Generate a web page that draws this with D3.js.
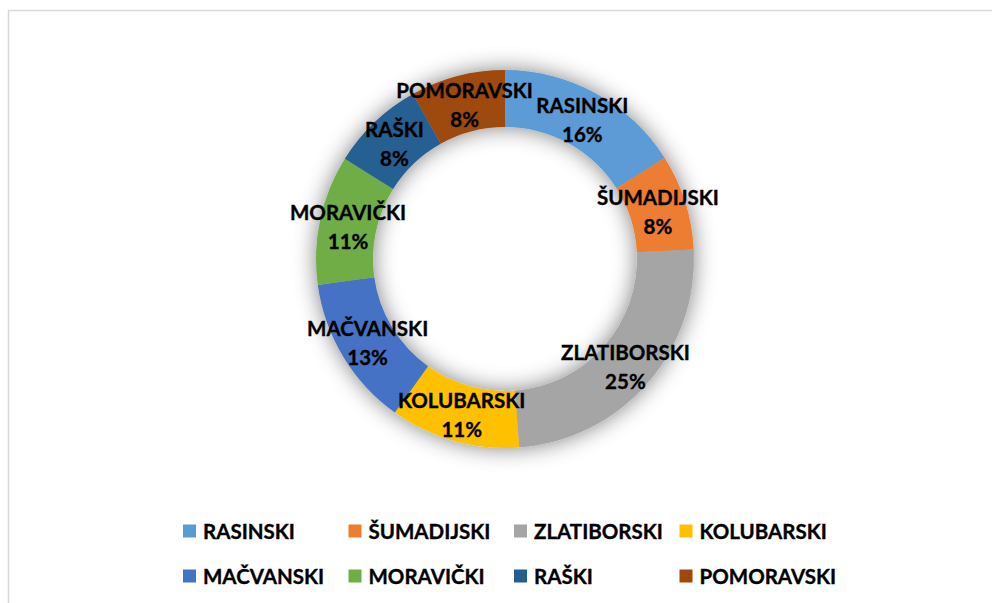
<!DOCTYPE html>
<html>
<head>
<meta charset="utf-8">
<script src="https://cdn.jsdelivr.net/npm/d3@7"></script>
<style>
  html, body { margin: 0; padding: 0; background: #fff; }
  svg { display: block; }
  text { font-family: Lato, "Open Sans", sans-serif; font-weight: 700; fill: #000; stroke: #000; stroke-width: 0.35px; }
</style>
</head>
<body>
<svg id="chart" width="992" height="603"></svg>
<script>
const categories = ["RASINSKI", "ŠUMADIJSKI", "ZLATIBORSKI", "KOLUBARSKI", "MAČVANSKI", "MORAVIČKI", "RAŠKI", "POMORAVSKI"];
const values = [16, 8.2, 24.6, 11.1, 12.9, 11.1, 8, 8.1];
const colors = ["#5B9BD5", "#ED7D31", "#A5A5A5", "#FFC000", "#4472C4", "#70AD47", "#255E91", "#9E480E"];

const svg = d3.select("#chart");
const W = 992, H = 603;

// chart area border (left and top visible)
svg.append("rect")
  .attr("x", 8.5).attr("y", 10.5)
  .attr("width", W + 20).attr("height", H + 20)
  .attr("fill", "#fff").attr("stroke", "#d9d9d9").attr("stroke-width", 1.5);

const defs = svg.append("defs");
const f = defs.append("filter").attr("id", "shadow")
  .attr("x", "-30%").attr("y", "-30%").attr("width", "160%").attr("height", "160%");
f.append("feGaussianBlur").attr("in", "SourceAlpha").attr("stdDeviation", 11).attr("result", "blur");
f.append("feFlood").attr("flood-color", "#000").attr("flood-opacity", 0.5).attr("result", "col");
f.append("feComposite").attr("in", "col").attr("in2", "blur").attr("operator", "in").attr("result", "sh");
const m = f.append("feMerge");
m.append("feMergeNode").attr("in", "sh");
m.append("feMergeNode").attr("in", "SourceGraphic");

const cx = 505, cy = 259, rOuter = 189, rInner = 132;
const data = categories.map((c, i) => ({ name: c, value: values[i], color: colors[i] }));
const total = d3.sum(values);

const pie = d3.pie().value(d => d.value).sort(null);
const arc = d3.arc().innerRadius(rInner).outerRadius(rOuter);
const arcs = pie(data);

const g = svg.append("g").attr("transform", `translate(${cx},${cy})`);
const ring = g.append("g").attr("filter", "url(#shadow)");
ring.selectAll("path").data(arcs).enter().append("path")
  .attr("d", arc)
  .attr("fill", d => d.data.color);

const labelArc = d3.arc().innerRadius((rInner + rOuter) / 2).outerRadius((rInner + rOuter) / 2);
const fs = 20.5, lh = 29;
const lbl = g.selectAll("g.lbl").data(arcs).enter().append("g").attr("class", "lbl")
  .attr("transform", d => { const c = labelArc.centroid(d); return `translate(${c[0]},${c[1]})`; });
lbl.append("text").attr("text-anchor", "middle").attr("font-size", fs)
  .attr("y", -lh / 2 + 9).text(d => d.data.name);
lbl.append("text").attr("text-anchor", "middle").attr("font-size", fs)
  .attr("y", lh / 2 + 9).text(d => Math.round(d.data.value / total * 100) + "%");

// legend
const colX = d3.scaleBand().domain(d3.range(4)).range([183, 845]);
const rowY = d3.scalePoint().domain([0, 1]).range([531, 576]);
const leg = svg.selectAll("g.leg").data(data).enter().append("g").attr("class", "leg")
  .attr("transform", (d, i) => `translate(${colX(i % 4)},${rowY(Math.floor(i / 4))})`);
leg.append("rect").attr("x", 0).attr("y", -6.5).attr("width", 13).attr("height", 13).attr("fill", d => d.color);
leg.append("text").attr("x", 20).attr("y", 7.5).attr("font-size", fs).text(d => d.name);
</script>
</body>
</html>
